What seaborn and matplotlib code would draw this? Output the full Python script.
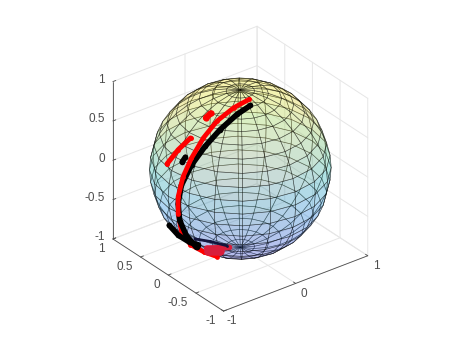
import numpy as np
import seaborn as sns
import matplotlib
matplotlib.use('Agg')
import matplotlib.pyplot as plt

# tick values
x_ticks = [-1, 0, 1]
y_ticks = [-1, -0.5, 0, 0.5, 1]
z_ticks = [-1, -0.5, 0, 0.5, 1]
x_labels = ['-1', '0', '1']
y_labels = ['-1', '-0.5', '0', '0.5', '1']
z_labels = ['-1', '-0.5', '0', '0.5', '1']

# trajectories on the unit sphere
black_main_x = [-0.074, -0.270, -0.506, -0.702, -0.857, -0.959, -0.986, -0.956, -0.866, -0.714]
black_main_y = [-0.279, -0.291, -0.295, -0.276, -0.236, -0.185, -0.161, -0.150, -0.155, -0.140]
black_main_z = [0.957, 0.917, 0.810, 0.655, 0.457, 0.213, -0.023, -0.254, -0.476, -0.686]

red_upper_x = [-0.025, -0.244, -0.474, -0.667, -0.832, -0.933, -0.985, -0.975]
red_upper_y = [-0.197, -0.197, -0.194, -0.201, -0.201, -0.181, -0.159, -0.147]
red_upper_z = [0.981, 0.950, 0.859, 0.717, 0.518, 0.309, 0.061, -0.163]

red_lower_x = [-0.975, -0.902, -0.690, -0.595, -0.498]
red_lower_y = [-0.147, -0.109, 0.002, -0.122, -0.228]
red_lower_z = [-0.163, -0.420, -0.724, -0.795, -0.837]

red_short_x = [-0.934, -0.848, -0.735]
red_short_y = [0.108, 0.019, -0.058]
red_short_z = [0.339, 0.529, 0.675]

red_dot_x = [-0.519, -0.456]
red_dot_y = [-0.055, -0.058]
red_dot_z = [0.853, 0.889]

black_dot_x = [-0.888, -0.856]
black_dot_y = [-0.106, -0.123]
black_dot_z = [0.446, 0.503]

black_low_x = [-0.810, -0.764, -0.783, -0.775]
black_low_y = [0.229, 0.124, -0.107, -0.249]
black_low_z = [-0.540, -0.635, -0.612, -0.580]

crimson_a_x = [-0.620, -0.726]
crimson_a_y = [-0.595, -0.338]
crimson_a_z = [-0.511, -0.599]

crimson_b_x = [-0.637, -0.670]
crimson_b_y = [-0.466, -0.296]
crimson_b_z = [-0.615, -0.681]

navy_x = [-0.838, -0.772, -0.644]
navy_y = [-0.269, -0.459, -0.597]
navy_z = [-0.475, -0.443, -0.479]

parula = ['#3e26a8', '#2f6cf0', '#1b9ad6', '#2bbfa0', '#a8c34a', '#f5d52f', '#f9fb15']

sns.set_style('white')
plt.rcParams['font.family'] = ['Liberation Sans', 'DejaVu Sans']

fig = plt.figure(figsize=(4.65, 3.49), dpi=100)
size = 320
ax = fig.add_axes([(236 - size / 2) / 465, (349 - 173 - size / 2) / 349, size / 465, size / 349],
                  projection='3d', proj_type='ortho', computed_zorder=False)
ax.set_box_aspect((1, 1, 1), zoom=0.955)
ax.view_init(elev=30, azim=-127.5)
ax.set_xlim(-1, 1)
ax.set_ylim(-1, 1)
ax.set_zlim(-1, 1)
ax.set_axis_off()
ax.patch.set_alpha(0)

grid_c = '#e6e6e6'
for z in z_ticks:
    ax.plot([-1, 1, 1], [1, 1, -1], [z, z, z], color=grid_c, lw=0.7, zorder=0)
for x in x_ticks:
    ax.plot([x, x, x], [-1, 1, 1], [-1, -1, 1], color=grid_c, lw=0.7, zorder=0)
for y in y_ticks:
    ax.plot([-1, 1, 1], [y, y, y], [-1, -1, 1], color=grid_c, lw=0.7, zorder=0)

# axis lines and ticks
axis_c = '#4d4d4d'
ax.plot([-1, 1], [-1, -1], [-1, -1], color=axis_c, lw=0.6, zorder=0.5)
ax.plot([-1, -1], [-1, 1], [-1, -1], color=axis_c, lw=0.6, zorder=0.5)
ax.plot([-1, -1], [1, 1], [-1, 1], color=axis_c, lw=0.6, zorder=0.5)
for x, lab in zip(x_ticks, x_labels):
    ax.plot([x, x], [-1, -0.96], [-1, -1], color=axis_c, lw=0.6, zorder=0.5)
    ax.text(x, -1.15, -1.06, lab, color=axis_c, fontsize=8.5, ha='center', va='center')
for y, lab in zip(y_ticks, y_labels):
    ax.plot([-1, -0.96], [y, y], [-1, -1], color=axis_c, lw=0.6, zorder=0.5)
    ax.text(-1.11, y, -1.09, lab, color=axis_c, fontsize=8.5, ha='right', va='center')
for z, lab in zip(z_ticks, z_labels):
    ax.plot([-1, -0.96], [1, 1], [z, z], color=axis_c, lw=0.6, zorder=0.5)
    ax.text(-1.11, 1, z + 0.06, lab, color=axis_c, fontsize=8.5, ha='right', va='center')

# the sphere
theta = np.linspace(-np.pi, np.pi, 21)
phi = np.linspace(-np.pi / 2, np.pi / 2, 21)
X = np.outer(np.cos(phi), np.cos(theta))
Y = np.outer(np.cos(phi), np.sin(theta))
Z = np.outer(np.sin(phi), np.ones_like(theta))
cmap = sns.blend_palette(parula, as_cmap=True)
face = cmap((Z + 1) / 2)
face[..., 3] = 0.2
ax.plot_surface(X, Y, Z, rstride=1, cstride=1, facecolors=face, shade=False,
                edgecolor=(0, 0, 0, 0.45), linewidth=0.45, zorder=1)


def curve(xs, ys, zs, color, z, lw=4.0):
    # markers on the vertices keep the ends and bends round
    ax.plot(xs, ys, zs, color=color, lw=lw, zorder=z, marker='o', ms=lw, mew=0,
            solid_capstyle='round', solid_joinstyle='round')


curve(red_lower_x, red_lower_y, red_lower_z, 'red', 2, lw=3.4)
curve(crimson_a_x, crimson_a_y, crimson_a_z, '#d81e3c', 2.1, lw=4)
curve(crimson_b_x, crimson_b_y, crimson_b_z, '#d81e3c', 2.1, lw=6)
curve(navy_x, navy_y, navy_z, '#14143c', 2.2, lw=2)
curve(black_low_x, black_low_y, black_low_z, 'black', 3)
curve(black_dot_x, black_dot_y, black_dot_z, 'black', 3)
curve(black_main_x, black_main_y, black_main_z, 'black', 3)
curve(red_upper_x, red_upper_y, red_upper_z, 'red', 4, lw=3.4)
curve(red_short_x, red_short_y, red_short_z, 'red', 4, lw=3.6)
curve(red_dot_x, red_dot_y, red_dot_z, 'red', 4, lw=4.5)

fig.savefig('out.png', dpi=100)
